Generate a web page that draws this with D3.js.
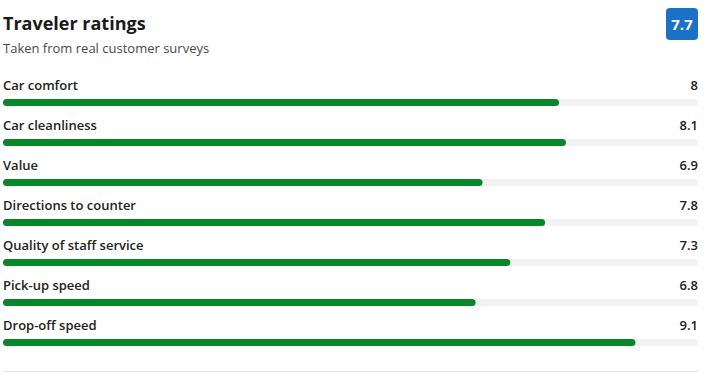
<!DOCTYPE html>
<html><head><meta charset="utf-8">
<script src="https://cdn.jsdelivr.net/npm/d3@7"></script>
<style>
html,body{margin:0;padding:0;background:#fff;}
svg{display:block;font-family:"Segoe UI","Open Sans","Noto Sans",sans-serif;}
</style></head><body>
<svg id="c" width="707" height="377"></svg>
<script>
const categories = ["Car comfort","Car cleanliness","Value","Directions to counter","Quality of staff service","Pick-up speed","Drop-off speed"];
const values = [8, 8.1, 6.9, 7.8, 7.3, 6.8, 9.1];
const valueLabels = ["8","8.1","6.9","7.8","7.3","6.8","9.1"];
const overall = "7.7";
const title = "Traveler ratings";
const subtitle = "Taken from real customer surveys";

const svg = d3.select("#c");
const x = d3.scaleLinear().domain([0,10]).range([3,698]);
const y = d3.scaleBand().domain(categories).range([65,345]);

svg.append("text").attr("x",3).attr("y",30).attr("font-size",18).attr("font-weight",700).attr("fill","#1a1a1a").text(title);
svg.append("text").attr("x",3).attr("y",53).attr("font-size",13).attr("fill","#4a4a4a").text(subtitle);

const badge = svg.append("g");
badge.append("rect").attr("x",666).attr("y",8).attr("width",32).attr("height",32).attr("rx",4).attr("fill","#1a72c7");
badge.append("text").attr("x",682).attr("y",30).attr("text-anchor","middle").attr("font-size",15).attr("font-weight",700).attr("fill","#fff").text(overall);

const rows = svg.selectAll("g.row").data(categories).join("g").attr("class","row")
  .attr("transform",d=>`translate(0,${y(d)})`);
rows.append("text").attr("x",3).attr("y",25).attr("font-size",13).attr("font-weight",600).attr("fill","#222").text(d=>d);
rows.append("text").attr("x",698).attr("y",25).attr("text-anchor","end").attr("font-size",13).attr("font-weight",600).attr("fill","#222").text((d,i)=>valueLabels[i]);
rows.append("rect").attr("x",x(0)).attr("y",34).attr("width",x(10)-x(0)).attr("height",7).attr("rx",3.5).attr("fill","#f2f2f2");
rows.append("rect").attr("x",x(0)).attr("y",34).attr("width",(d,i)=>x(values[i])-x(0)).attr("height",7).attr("rx",3.5).attr("fill","#09862a");

svg.append("line").attr("x1",3).attr("x2",698).attr("y1",371.5).attr("y2",371.5).attr("stroke","#e3e3e3").attr("stroke-width",1);
</script></body></html>
